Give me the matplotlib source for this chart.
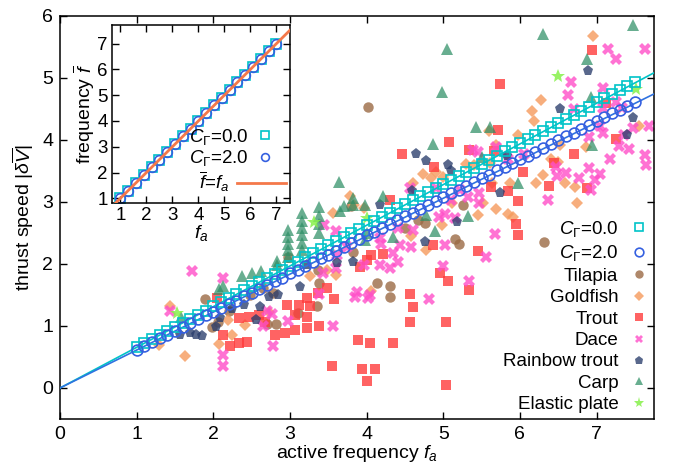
import matplotlib
matplotlib.use("Agg")
import matplotlib.pyplot as plt
import numpy as np

plt.rcParams['font.family'] = ['Liberation Sans', 'DejaVu Sans']
plt.rcParams['mathtext.fontset'] = 'custom'
plt.rcParams['mathtext.rm'] = 'Liberation Sans'
plt.rcParams['mathtext.it'] = 'Liberation Sans:italic'
plt.rcParams['mathtext.bf'] = 'Liberation Sans:bold'
plt.rcParams['font.size'] = 14

# ---------------- data ----------------
# model (C_Gamma = 0.0 and 2.0), active frequency grid
fa_model = [1.0, 1.1, 1.2, 1.3, 1.4, 1.5, 1.6, 1.7, 1.8, 1.9,
            2.0, 2.1, 2.2, 2.3, 2.4, 2.5, 2.6, 2.7, 2.8, 2.9,
            3.0, 3.1, 3.2, 3.3, 3.4, 3.5, 3.6, 3.7, 3.8, 3.9,
            4.0, 4.1, 4.2, 4.3, 4.4, 4.5, 4.6, 4.7, 4.8, 4.9,
            5.0, 5.1, 5.2, 5.3, 5.4, 5.5, 5.6, 5.7, 5.8, 5.9,
            6.0, 6.1, 6.2, 6.3, 6.4, 6.5, 6.6, 6.7, 6.8, 6.9,
            7.0, 7.1, 7.2, 7.3, 7.4, 7.5]
speed_c0 = [0.66, 0.72, 0.79, 0.86, 0.92, 0.99, 1.05, 1.12, 1.18, 1.25,
            1.32, 1.38, 1.45, 1.51, 1.58, 1.65, 1.71, 1.78, 1.84, 1.91,
            1.97, 2.04, 2.11, 2.17, 2.24, 2.30, 2.37, 2.43, 2.50, 2.57,
            2.63, 2.70, 2.76, 2.83, 2.90, 2.96, 3.03, 3.09, 3.16, 3.22,
            3.29, 3.36, 3.42, 3.49, 3.55, 3.62, 3.68, 3.75, 3.82, 3.88,
            3.95, 4.01, 4.08, 4.15, 4.21, 4.28, 4.34, 4.41, 4.47, 4.54,
            4.61, 4.67, 4.74, 4.80, 4.87, 4.94]
speed_c2 = [0.62, 0.68, 0.74, 0.80, 0.86, 0.92, 0.98, 1.05, 1.11, 1.17,
            1.23, 1.29, 1.35, 1.41, 1.48, 1.54, 1.60, 1.66, 1.72, 1.78,
            1.85, 1.91, 1.97, 2.03, 2.09, 2.15, 2.21, 2.28, 2.34, 2.40,
            2.46, 2.52, 2.58, 2.64, 2.71, 2.77, 2.83, 2.89, 2.95, 3.01,
            3.08, 3.14, 3.20, 3.26, 3.32, 3.38, 3.44, 3.51, 3.57, 3.63,
            3.69, 3.75, 3.81, 3.87, 3.94, 4.00, 4.06, 4.12, 4.18, 4.24,
            4.31, 4.37, 4.43, 4.49, 4.55, 4.61]
fit_slope_c0 = 0.656
fit_slope_c2 = 0.612
fit_intercept = 0.0

# inset: mean frequency vs active frequency
fa_inset = [1.0, 1.3, 1.6, 1.9, 2.2, 2.5, 2.8, 3.1, 3.4, 3.7, 4.0,
            4.3, 4.6, 4.9, 5.2, 5.5, 5.8, 6.1, 6.4, 6.7, 7.0]
fbar_c0 = [1.0, 1.3, 1.6, 1.9, 2.2, 2.5, 2.8, 3.1, 3.4, 3.7, 4.0,
           4.3, 4.6, 4.9, 5.2, 5.5, 5.8, 6.1, 6.4, 6.7, 7.0]
fbar_c2 = [1.0, 1.3, 1.6, 1.9, 2.2, 2.5, 2.8, 3.1, 3.4, 3.7, 4.0,
           4.3, 4.6, 4.9, 5.2, 5.5, 5.8, 6.1, 6.4, 6.7, 7.0]

# experimental data (f_a, speed)
tilapia = [(1.89, 1.44), (1.98, 0.99), (2.06, 1.06), (2.20, 1.25), (2.48, 1.50),
           (2.65, 1.62), (2.70, 1.03), (2.82, 1.03), (2.78, 1.54), (2.98, 2.11),
           (3.10, 1.21), (3.35, 1.33), (3.37, 1.90), (3.38, 1.70), (3.80, 2.93),
           (3.82, 2.20), (4.02, 4.53), (4.13, 1.70), (4.30, 1.65), (4.30, 1.47),
           (4.50, 2.58), (4.67, 2.71), (4.76, 2.66), (5.15, 2.40), (5.20, 2.33),
           (5.26, 2.95), (6.32, 2.36)]
goldfish = [(1.29, 0.69), (1.43, 1.33), (1.63, 0.52), (2.07, 0.71), (2.19, 1.09),
            (2.25, 0.85), (2.41, 1.02), (2.73, 1.23), (3.26, 1.80), (3.48, 1.90),
            (3.60, 1.82), (3.56, 2.82), (3.78, 3.09), (3.83, 2.95), (3.97, 2.90),
            (4.06, 1.57), (4.58, 2.45), (4.61, 3.30), (4.73, 3.45), (4.84, 3.38),
            (4.78, 2.22), (4.98, 2.63), (4.90, 3.48), (5.00, 3.40), (5.30, 3.62),
            (5.40, 3.60), (5.45, 2.79), (5.69, 2.88), (5.84, 2.80), (5.60, 4.15),
            (5.69, 3.92), (5.64, 3.31), (5.87, 3.30), (5.98, 4.08), (6.16, 4.47),
            (6.19, 4.31), (6.27, 4.64), (6.96, 5.68), (6.21, 3.31), (6.30, 3.43),
            (6.41, 3.69), (6.50, 3.65), (6.52, 3.92), (6.59, 3.31), (6.72, 3.25),
            (6.74, 2.99), (6.86, 3.89), (7.55, 4.22), (5.12, 2.99), (5.61, 3.63),
            (5.91, 2.76), (5.52, 2.98)]
trout = [(2.05, 1.45), (2.13, 0.85), (2.22, 0.67), (2.33, 0.72), (2.44, 0.75),
         (2.33, 1.13), (2.46, 1.15), (2.59, 1.17), (2.67, 1.07), (2.80, 0.85),
         (2.93, 0.89), (2.96, 1.34), (3.06, 0.94), (3.06, 1.18), (3.12, 1.34),
         (3.22, 0.96), (3.22, 1.15), (3.22, 1.45), (3.26, 1.32), (3.36, 1.54),
         (3.48, 1.61), (3.38, 1.00), (3.55, 0.35), (3.57, 1.43), (3.89, 0.77),
         (3.92, 1.95), (3.94, 0.30), (4.01, 0.11), (4.00, 2.06), (4.04, 0.72),
         (4.11, 0.30), (4.06, 2.15), (4.22, 2.16), (4.30, 3.03), (4.35, 0.72),
         (4.46, 3.78), (4.56, 1.52), (4.60, 1.30), (4.57, 1.07), (4.87, 2.31),
         (4.88, 3.57), (4.96, 1.86), (5.06, 1.72), (5.03, 1.07), (5.03, 0.05),
         (5.08, 3.96), (5.33, 3.84), (5.34, 1.58), (5.45, 2.21), (5.66, 3.82),
         (5.62, 3.24), (5.71, 4.16), (5.74, 4.90), (5.85, 3.17), (5.95, 2.65),
         (5.97, 2.46), (5.98, 3.02), (6.04, 3.49), (6.38, 3.26), (6.45, 3.63),
         (6.70, 3.78), (6.88, 3.22), (6.94, 5.45), (7.12, 4.59), (7.26, 4.01)]
dace = [(1.43, 1.25), (1.72, 1.89), (2.13, 1.77), (2.13, 0.53), (2.13, 0.36),
        (2.70, 1.25), (2.78, 0.68), (2.65, 1.00), (2.77, 1.20), (2.97, 1.08),
        (3.38, 1.52), (3.56, 1.00), (3.87, 1.55), (3.85, 1.47), (4.02, 1.45),
        (4.05, 1.50), (4.82, 1.43), (3.45, 2.63), (3.60, 2.54), (3.74, 2.28),
        (3.62, 2.15), (3.97, 1.98), (4.17, 1.98), (4.30, 1.93), (4.41, 2.03),
        (4.35, 2.17), (4.19, 2.33), (4.17, 2.42), (4.44, 2.31), (4.58, 2.28),
        (5.02, 2.31), (4.95, 2.76), (5.02, 2.80), (5.15, 2.75), (5.10, 3.03),
        (5.32, 3.08), (5.47, 3.14), (5.47, 2.98), (5.39, 3.84), (5.45, 3.80),
        (4.56, 3.22), (4.41, 2.58), (4.60, 2.55), (3.43, 1.85), (3.60, 1.93),
        (5.67, 2.48), (5.56, 2.12), (5.00, 1.96), (5.34, 1.72), (6.37, 3.04),
        (7.15, 5.47), (7.25, 5.30), (7.63, 5.47), (6.67, 4.94), (6.63, 4.72),
        (7.08, 4.84), (7.25, 4.62), (6.70, 4.50), (7.08, 4.51), (7.33, 4.51),
        (7.69, 4.22), (7.63, 3.76), (7.65, 3.60), (7.29, 3.90), (7.43, 3.85),
        (7.17, 3.70), (7.05, 3.45), (6.90, 3.55), (6.77, 3.39), (6.47, 3.57),
        (6.49, 3.42), (6.60, 3.47), (7.47, 4.19), (7.36, 4.08), (7.08, 4.11),
        (6.90, 4.05), (7.04, 4.22), (6.98, 3.36), (6.93, 3.19), (5.85, 3.70),
        (6.05, 3.78), (5.69, 3.89), (4.91, 3.22), (5.22, 3.19)]
rainbow_trout = [(1.56, 0.85), (1.70, 0.88), (1.78, 0.85), (1.85, 0.84), (2.03, 0.99),
                 (2.09, 1.13), (2.24, 1.28), (2.40, 1.34), (2.56, 1.10), (2.61, 1.31),
                 (2.73, 1.46), (2.84, 1.50), (3.13, 1.63), (3.22, 1.98), (3.61, 2.01),
                 (3.82, 2.03), (4.17, 2.95), (4.59, 3.17), (4.65, 3.78), (4.77, 3.66),
                 (5.06, 3.59), (5.10, 3.50), (4.76, 2.36), (5.18, 2.68), (5.74, 3.15),
                 (5.83, 3.74), (6.52, 4.50), (6.89, 5.12), (7.40, 4.08), (7.47, 4.35)]
carp = [(1.58, 1.15), (2.07, 1.60), (2.13, 1.65), (2.37, 1.80), (2.50, 1.85),
        (2.62, 1.89), (2.83, 1.98), (2.83, 2.05),
        (2.97, 2.11), (2.97, 2.22), (2.97, 2.33), (2.97, 2.44), (2.97, 2.55),
        (3.16, 2.23), (3.16, 2.34), (3.16, 2.46), (3.16, 2.58), (3.16, 2.70), (3.16, 2.82),
        (3.38, 2.50), (3.38, 2.64), (3.38, 2.78), (3.38, 2.92),
        (3.64, 3.32), (3.65, 2.85), (3.71, 2.93), (3.82, 2.95), (3.82, 3.07),
        (3.98, 2.95), (3.98, 2.39), (4.00, 2.50), (4.21, 3.10), (4.35, 2.44),
        (4.78, 2.79), (4.89, 2.53), (4.87, 3.93), (4.98, 4.77), (5.05, 5.47),
        (5.32, 2.77), (5.43, 4.21), (5.61, 4.21), (5.50, 3.73), (5.98, 3.30),
        (6.30, 5.71), (6.87, 5.30), (6.93, 4.69), (6.94, 3.92), (7.47, 5.86)]
elastic_plate = [(1.52, 1.21), (3.32, 2.67), (4.00, 2.75), (6.50, 5.03), (7.52, 4.82)]

species = [
    ("Tilapia", tilapia, 'o', '#9b6a45', 7.5, 0.8),
    ("Goldfish", goldfish, 'D', '#f59a5c', 6.5, 0.8),
    ("Trout", trout, 's', '#ff3c3c', 7.0, 0.8),
    ("Dace", dace, 'X', '#ff4fc8', 8.0, 0.8),
    ("Rainbow trout", rainbow_trout, 'p', '#2a3d6c', 8.0, 0.78),
    ("Carp", carp, '^', '#2e8f66', 8.0, 0.72),
    ("Elastic plate", elastic_plate, '*', '#86f04a', 10.0, 0.85),
]

c_cyan = '#00c4c8'
c_blue = '#3560e0'
c_orange = '#f4784a'

# ---------------- figure ----------------
fig = plt.figure(figsize=(6.75, 4.63), dpi=100)
ax = fig.add_axes([60/675, 44/463, 594/675, 403/463])

handles = {}
for name, pts, mk, col, ms, al in species:
    xs = [p[0] for p in pts]
    ys = [p[1] for p in pts]
    h, = ax.plot(xs, ys, ls='none', marker=mk, ms=ms, color=col, mew=0,
                 alpha=al, zorder=2, label=name)
    handles[name] = h

ax.axline((0, fit_intercept), slope=fit_slope_c0, color=c_cyan, lw=1.2, zorder=3)
ax.axline((0, fit_intercept), slope=fit_slope_c2, color='#2f72e0', lw=1.2, zorder=3)
h0, = ax.plot(fa_model, speed_c0, ls='none', marker='s', ms=7.5, mfc='none',
              mec=c_cyan, mew=1.2, zorder=4, label=r'$C_\Gamma$=0.0')
h2, = ax.plot(fa_model, speed_c2, ls='none', marker='o', ms=7.8, mfc='none',
              mec=c_blue, mew=1.2, zorder=5, label=r'$C_\Gamma$=2.0')

ax.set_xlim(0, 7.75)
ax.set_ylim(-0.5, 6)
ax.set_xticks(range(0, 8))
ax.set_yticks(range(0, 7))
ax.tick_params(direction='in', top=True, right=True, length=5, width=1,
               labelsize=14, pad=5)
for s in ax.spines.values():
    s.set_linewidth(1.1)
ax.set_xlabel(r'active frequency $f_a$', fontsize=14, labelpad=0)
ax.set_ylabel(r'thrust speed |$\delta\overline{V}$|', fontsize=14, labelpad=4)

leg_handles = [h0, h2] + [handles[s[0]] for s in species]
leg = ax.legend(handles=leg_handles, loc='lower right', markerfirst=False,
                frameon=False, fontsize=13.5, labelspacing=0.23, handlelength=1.0,
                handletextpad=0.6, borderaxespad=0.2, borderpad=0.1,
                markerscale=0.8)

# ---------------- inset ----------------
axi = fig.add_axes([112/675, (463-203)/463, 178/675, 178/463])
axi.set_facecolor('white')
hline = axi.axline((0, 0), slope=1, color=c_orange, lw=2, zorder=3,
                   label=r'$\overline{f}$=$f_a$')
hi0, = axi.plot(fa_inset, fbar_c0, ls='none', marker='s', ms=7, mfc='none',
                mec=c_cyan, mew=1.2, zorder=2, label=r'$C_\Gamma$=0.0')
hi2, = axi.plot(fa_inset, fbar_c2, ls='none', marker='o', ms=7, mfc='none',
                mec=c_blue, mew=1.2, zorder=2, label=r'$C_\Gamma$=2.0')
axi.set_xlim(0.68, 7.52)
axi.set_ylim(0.82, 7.72)
axi.set_xticks(range(1, 8))
axi.set_yticks(range(1, 8))
axi.tick_params(direction='in', top=True, right=True, length=5, width=1,
                labelsize=13.5, pad=3)
for s in axi.spines.values():
    s.set_linewidth(1.1)
axi.set_xlabel(r'$f_a$', fontsize=14, labelpad=-1)
axi.set_ylabel(r'frequency $\overline{f}$', fontsize=14, labelpad=0)
leg_i1 = axi.legend(handles=[hi0, hi2], loc='center right',
                    bbox_to_anchor=(0.915, 0.312), markerfirst=False,
                    frameon=False, fontsize=13.5, labelspacing=0.1,
                    handlelength=1.0, handletextpad=0.4, borderaxespad=0,
                    borderpad=0, markerscale=0.8)
axi.add_artist(leg_i1)
axi.legend(handles=[hline], loc='center right', bbox_to_anchor=(0.975, 0.118),
           markerfirst=False, frameon=False, fontsize=13.5, handlelength=2.6,
           handletextpad=0.4, borderaxespad=0, borderpad=0)

fig.savefig('out.png', dpi=100)
